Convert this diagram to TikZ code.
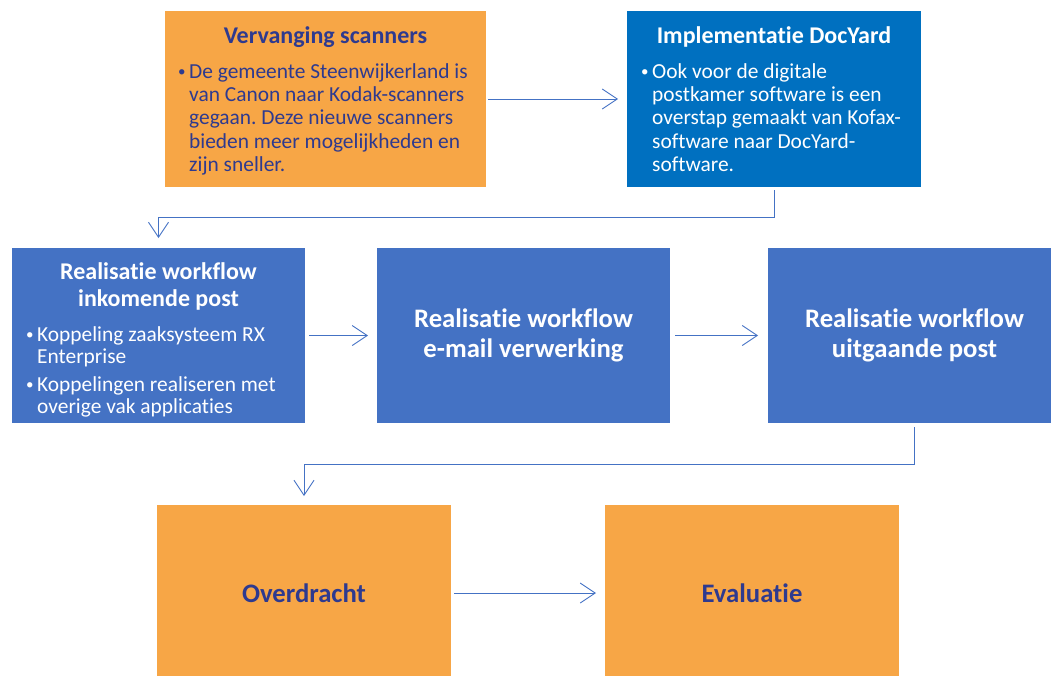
\documentclass[tikz,border=0pt]{standalone}
\usepackage{fontspec}
\setmainfont{Carlito}[Ligatures=NoCommon]
\usetikzlibrary{arrows.meta}
\frenchspacing
\definecolor{oranje}{HTML}{F7A646}
\definecolor{donker}{HTML}{2E3A8F}
\definecolor{blauwA}{HTML}{0070C0}
\definecolor{blauwB}{HTML}{4472C4}
\definecolor{lijn}{HTML}{4472C4}
\newcommand\mybul{\raisebox{1.5pt}{\fontsize{15}{15}\selectfont\textbullet}}
\tikzset{
  box/.style={rectangle, inner sep=0pt, outer sep=0pt, anchor=north west, minimum width=#1},
  obox/.style={box=#1, fill=oranje, minimum height=176pt},
  bbox/.style={box=#1, fill=blauwA, minimum height=176pt},
  cbox/.style={box=#1, fill=blauwB, minimum height=175pt},
  conn/.style={draw=lijn, line width=0.9pt, -{Straight Barb[length=15pt,width=20pt,line width=0.9pt]}},
  ttl/.style={font=\bfseries\fontsize{24}{27}\selectfont, inner sep=0pt, align=center},
  bigttl/.style={font=\bfseries\fontsize{26.7}{30}\selectfont, inner sep=0pt, align=center},
  txt/.style={inner sep=0pt, anchor=base west, align=left}
}
\begin{document}
\begin{tikzpicture}[x=1pt,y=-1pt]
\useasboundingbox (0,0) rectangle (1051,675);
% boxes
\node[obox=321pt] (b1) at (165,11) {};
\node[bbox=294pt] (b2) at (627,11) {};
\node[cbox=293pt] (b3) at (12,248) {};
\node[cbox=293pt] (b4) at (377,248) {};
\node[cbox=293pt] (b5) at (768,248) {};
\node[obox=294pt] (b6) at (157,505) {};
\node[obox=294pt] (b7) at (605,505) {};
% texts box 1
\node[ttl, text=donker] (t1) at (325.5,37) {Vervanging scanners};
\node[txt, text=donker, font=\fontsize{21.4}{23.4}\selectfont] (p1) at (178,78) {%
\begin{tabular}[t]{@{}p{11pt}@{}l@{}}
\mybul & De gemeente Steenwijkerland is\\
& van Canon naar Kodak-scanners\\
& gegaan. Deze nieuwe scanners\\
& bieden meer mogelijkheden en\\
& zijn sneller.
\end{tabular}};
% texts box 2
\node[ttl, text=white] (t2) at (774,37) {Implementatie DocYard};
\node[txt, text=white, font=\fontsize{21.4}{23.4}\selectfont] (p2) at (641,78) {%
\begin{tabular}[t]{@{}p{11pt}@{}l@{}}
\mybul & Ook voor de digitale\\
& postkamer software is een\\
& overstap gemaakt van Kofax-\\
& software naar DocYard-\\
& software.
\end{tabular}};
% texts box 3
\node[ttl, text=white] (t3) at (158.5,286.5) {Realisatie workflow\\inkomende post};
\node[txt, text=white, font=\fontsize{21.4}{22}\selectfont] (p3) at (26,341) {%
\begin{tabular}[t]{@{}p{11pt}@{}l@{}}
\mybul & Koppeling zaaksysteem RX\\
& Enterprise\\[6pt]
\mybul & Koppelingen realiseren met\\
& overige vak applicaties
\end{tabular}};
% texts box 4, 5
\node[bigttl, text=white] (t4) at (b4.center) {Realisatie workflow\\e-mail verwerking};
\node[bigttl, text=white] (t5) at (b5.center) {Realisatie workflow\\uitgaande post};
% texts box 6, 7
\node[bigttl, text=donker] (t6) at (b6.center) {Overdracht};
\node[bigttl, text=donker] (t7) at (b7.center) {Evaluatie};
% connectors
\draw[conn] ([xshift=2pt]b1.east) -- ([xshift=-9pt]b2.west);
\draw[conn] ([yshift=-3pt]b2.south) |- ([yshift=31pt]b3.north) -- ([yshift=10pt]b3.north);
\draw[conn] ([xshift=4pt]b3.east) -- ([xshift=-9pt]b4.west);
\draw[conn] ([xshift=5pt]b4.east) -- ([xshift=-10pt]b5.west);
\draw[conn] ([yshift=-4pt]b5.south) |- ([yshift=41pt]b6.north) -- ([yshift=9pt]b6.north);
\draw[conn] ([xshift=3pt]b6.east) -- ([xshift=-9pt]b7.west);
\end{tikzpicture}
\end{document}
